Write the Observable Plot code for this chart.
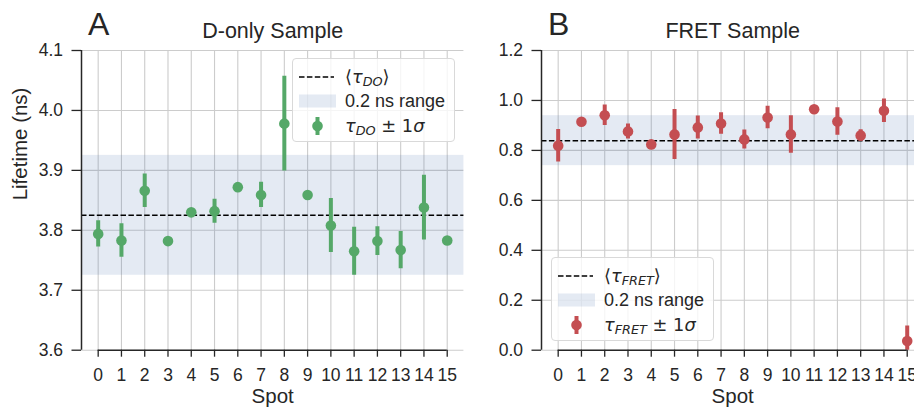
<!DOCTYPE html>
<html>
<head>
<meta charset="utf-8">
<script src="https://cdn.jsdelivr.net/npm/d3@7"></script>
<script src="https://cdn.jsdelivr.net/npm/@observablehq/plot@0.6"></script>
<style>
  body { margin: 0; background: #fff; }
  #wrap { position: relative; width: 914px; height: 408px; overflow: hidden;
          font-family: "Liberation Sans", Arial, sans-serif; color: #262626; background: #fff; }
  #wrap > svg { position: absolute; top: 0; }
  .legend { position: absolute; box-sizing: border-box; background: rgba(255,255,255,0.8);
            border: 1px solid #d9d9d9; border-radius: 4px; font-size: 18px; }
  .row { position: absolute; left: 0; right: 0; height: 24px; }
  .row svg { position: absolute; left: 6px; top: 0; }
  .row .lab { position: absolute; left: 52px; top: 0; height: 24px; line-height: 24px; white-space: nowrap; }
  .m { font-family: "DejaVu Sans", sans-serif; font-size: 17.8px; }
  .it { font-style: italic; }
  .sub { font-size: 0.72em; position: relative; top: 0.3em; }
</style>
</head>
<body>
<div id="wrap"></div>
<script>
// ---------- data ----------
const spots = [0, 1, 2, 3, 4, 5, 6, 7, 8, 9, 10, 11, 12, 13, 14, 15];

const doLifetime = [3.794, 3.783, 3.866, 3.782, 3.830, 3.832, 3.872, 3.859,
                    3.978, 3.859, 3.808, 3.765, 3.782, 3.767, 3.838, 3.783];
const doSigma    = [0.022, 0.028, 0.028, 0.004, 0.004, 0.020, 0.004, 0.021,
                    0.079, 0.004, 0.045, 0.040, 0.024, 0.031, 0.054, 0.004];
const doMean = 3.825;

const fretLifetime = [0.819, 0.915, 0.941, 0.876, 0.824, 0.864, 0.892, 0.908,
                      0.844, 0.932, 0.864, 0.965, 0.916, 0.860, 0.959, 0.037];
const fretSigma    = [0.065, 0.004, 0.041, 0.030, 0.004, 0.100, 0.046, 0.043,
                      0.038, 0.045, 0.075, 0.004, 0.055, 0.023, 0.047, 0.060];
const fretMean = 0.839;

const rangeWidth = 0.2;   // "0.2 ns range"

const doTicks   = [3.6, 3.7, 3.8, 3.9, 4.0, 4.1];
const fretTicks = [0.0, 0.2, 0.4, 0.6, 0.8, 1.0, 1.2];

const panels = [
  { letter: "A", title: "D-only Sample", values: doLifetime, sigma: doSigma, mean: doMean,
    ticks: doTicks, color: "#55a868", ylabel: "Lifetime (ns)", left: 0,
    sym: "DO", legend: { left: 292, top: 58 } },
  { letter: "B", title: "FRET Sample", values: fretLifetime, sigma: fretSigma, mean: fretMean,
    ticks: fretTicks, color: "#c44e52", ylabel: null, left: 460,
    sym: "FRET", legend: { left: 551, top: 257 } }
];

const FONT = '"Liberation Sans", Arial, sans-serif';
const INK = "#262626";
const wrap = document.getElementById("wrap");

for (const p of panels) {
  const data = spots.map((s, i) => ({ spot: s, v: p.values[i], s: p.sigma[i] }));
  const yMin = d3.min(p.ticks), yMax = d3.max(p.ticks);
  const xMin = d3.min(spots), xMax = d3.max(spots);
  const pad = 0.717;
  const marks = [
    Plot.gridX(spots, { stroke: "#cccccc", strokeOpacity: 1, strokeWidth: 1.1 }),
    Plot.gridY(p.ticks, { stroke: "#cccccc", strokeOpacity: 1, strokeWidth: 1.1 }),
    Plot.rect([p.mean], { y1: d => d - rangeWidth / 2, y2: d => d + rangeWidth / 2,
                          fill: "#4c72b0", fillOpacity: 0.15 }),
    Plot.ruleY([p.mean], { stroke: "black", strokeWidth: 1.5, strokeDasharray: "5.5,2.4" }),
    Plot.ruleX(data, { x: "spot", y1: d => d.v - d.s, y2: d => d.v + d.s,
                       stroke: p.color, strokeWidth: 4, clip: true }),
    Plot.dot(data, { x: "spot", y: "v", r: 5.3, fill: p.color }),
    // spines
    Plot.ruleX([xMin - pad], { y1: yMin, y2: yMax, stroke: INK, strokeWidth: 1.5 }),
    Plot.ruleY([yMin], { x1: xMin, x2: xMax, stroke: INK, strokeWidth: 1.5 }),
    Plot.axisY(p.ticks, { anchor: "left", tickSize: 9.5, tickPadding: 9, tickFormat: d3.format(".1f"),
                          label: null, fontSize: 17.5, stroke: INK, strokeWidth: 1.3, fill: INK }),
    Plot.axisX(spots, { anchor: "bottom", tickSize: 7, tickPadding: 11, tickFormat: d => String(d),
                        label: null, fontSize: 17.5, stroke: INK, strokeWidth: 1.3, fill: INK }),
    Plot.text([p.title], { frameAnchor: "top", lineAnchor: "middle", dy: -19.7, fontSize: 21.5, fill: INK }),
    Plot.text([p.letter], { frameAnchor: "top-left", lineAnchor: "middle", textAnchor: "start",
                            dx: 6.5, dy: -25.8, fontSize: 32, fill: INK }),
    Plot.text(["Spot"], { frameAnchor: "bottom", lineAnchor: "middle", dy: 46, fontSize: 20.5, fill: INK })
  ];
  if (p.ylabel) {
    marks.push(Plot.text([p.ylabel], { frameAnchor: "left", lineAnchor: "middle", rotate: -90,
                                       dx: -61, fontSize: 20.5, fill: INK }));
  }
  const svg = Plot.plot({
    width: 470, height: 408,
    marginLeft: 81, marginRight: 6.6, marginTop: 50, marginBottom: 58.3,
    x: { domain: [xMin - pad, xMax + pad], axis: null },
    y: { domain: [yMin, yMax], axis: null },
    style: { fontFamily: FONT, color: INK, background: "transparent", overflow: "visible" },
    marks
  });
  svg.style.left = p.left + "px";
  wrap.appendChild(svg);

  // legend (HTML overlay)
  const lg = document.createElement("div");
  lg.className = "legend";
  lg.style.left = p.legend.left + "px";
  lg.style.top = p.legend.top + "px";
  lg.style.width = "163px";
  lg.style.height = "84px";
  const rows = [
    { top: 5.5, swatch: `<line x1="0" x2="35" y1="12" y2="12" stroke="black" stroke-width="1.5" stroke-dasharray="5.5,2.4"/>`,
      label: `<span class="m">⟨<span class="it">τ</span><span class="sub it">${p.sym}</span>⟩</span>` },
    { top: 30, swatch: `<rect x="0" y="5.5" width="37" height="13" fill="#4c72b0" fill-opacity="0.15"/>`,
      label: `0.2 ns range` },
    { top: 54.5, swatch: `<line x1="18.5" x2="18.5" y1="3" y2="21" stroke="${p.color}" stroke-width="4"/><circle cx="18.5" cy="12" r="5.3" fill="${p.color}"/>`,
      label: `<span class="m"><span class="it">τ</span><span class="sub it">${p.sym}</span> ± 1<span class="it">σ</span></span>` }
  ];
  for (const r of rows) {
    const row = document.createElement("div");
    row.className = "row";
    row.style.top = r.top + "px";
    row.innerHTML = `<svg width="40" height="24">${r.swatch}</svg><span class="lab">${r.label}</span>`;
    lg.appendChild(row);
  }
  wrap.appendChild(lg);
}
</script>
</body>
</html>
